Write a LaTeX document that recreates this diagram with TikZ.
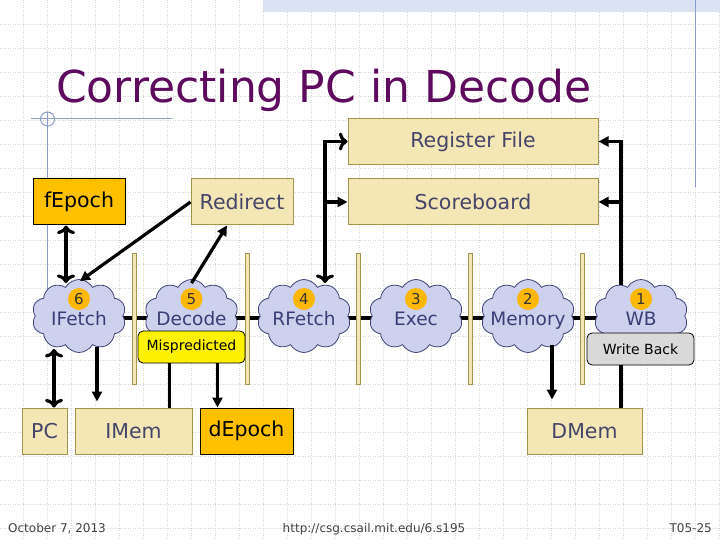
\documentclass[tikz,border=0pt]{standalone}
\usepackage{fontspec}
\setmainfont{DejaVu Sans}
\usetikzlibrary{arrows.meta,shapes.symbols,backgrounds}

\definecolor{tanfill}{HTML}{F3E7B5}
\definecolor{tanline}{HTML}{A4944C}
\definecolor{epochfill}{HTML}{FFC000}
\definecolor{cloudfill}{HTML}{CDD1EE}
\definecolor{cloudline}{HTML}{3F4377}
\definecolor{navytext}{HTML}{3B3E76}
\definecolor{boxtext}{HTML}{45456A}
\definecolor{titlepurple}{HTML}{5E0A5E}
\definecolor{gridgray}{HTML}{D6D6D6}
\definecolor{slideblue}{HTML}{8A9CC8}
\definecolor{bandblue}{HTML}{DAE1F1}
\definecolor{wbgray}{HTML}{D9D9D9}
\definecolor{dotorange}{HTML}{FFB800}

\tikzset{
  box/.style={draw=tanline, fill=tanfill, text=boxtext, line width=1pt,
    minimum height=46pt, inner sep=0pt, font=\fontsize{20.5}{20.5}\selectfont},
  epochbox/.style={box, draw=black, fill=epochfill, text=black},
  cloudy/.style={cloud, cloud puffs=10, cloud puff arc=120, draw=cloudline,
    fill=cloudfill, line width=0.8pt, minimum width=94pt, minimum height=73pt,
    inner sep=0pt},
  numdot/.style={circle, fill=dotorange, minimum size=22pt, inner sep=0pt,
    text=black!80, font=\fontsize{15}{15}\selectfont},
  cloudtext/.style={text=navytext, inner sep=0pt, anchor=base,
    font=\fontsize{18.5}{18.5}\selectfont},
  tag/.style={draw=black, rounded corners=5pt, line width=0.8pt, minimum height=32pt,
    inner sep=0pt, font=\fontsize{14}{14}\selectfont},
  latch/.style={draw=tanline, fill=tanfill, line width=0.6pt, minimum width=4pt,
    minimum height=131pt, inner sep=0pt},
  wire/.style={line width=3.2pt},
  arr/.style={wire, -{Triangle[length=10pt,width=10pt]}},
  foot/.style={text=black!75, inner sep=0pt, font=\fontsize{12}{12}\selectfont},
}

\begin{document}
\begin{tikzpicture}[x=1pt,y=-1pt]
\useasboundingbox (0,0) rectangle (720,540);

% slide background
\begin{scope}[on background layer]
  \fill[white] (0,0) rectangle (720,540);
  \foreach \x in {0,...,29}
    \draw[gridgray,dotted,line width=0.5pt] (23.5+24*\x,0)--(23.5+24*\x,540);
  \foreach \y in {1,...,22}
    \draw[gridgray,dotted,line width=0.5pt] (0,24*\y)--(720,24*\y);
  \fill[bandblue] (263,0) rectangle (720,12);
  \draw[slideblue,line width=1pt] (695,0)--(695,187);
  \draw[slideblue,line width=1pt] (31,119)--(172,119);
  \draw[slideblue,line width=1pt] (47.5,112)--(47.5,300);
  \draw[slideblue,line width=1pt] (47.5,119) circle[radius=7pt];
\end{scope}

\node[anchor=base west,inner sep=0pt,text=titlepurple,font=\fontsize{44}{44}\selectfont]
  (title) at (56,103) {Correcting PC in Decode};

% state elements
\node[box,minimum width=250pt] (rf) at (473,141.5) {Register File};
\node[box,minimum width=250pt] (sb) at (473,202) {Scoreboard};
\node[epochbox,minimum width=92pt] (fepoch) at (79,202) {fEpoch};
\node[box,minimum width=102pt] (redirect) at (242,202) {Redirect};
\node[box,minimum width=45pt] (pc) at (44.5,431) {PC};
\node[box,minimum width=117pt] (imem) at (133.5,431) {IMem};
\node[epochbox,minimum width=93pt] (depoch) at (246.5,431) {dEpoch};
\node[box,minimum width=115pt] (dmem) at (584.5,431) {DMem};

% pipeline stages
\foreach \x/\n/\name/\lbl in {79/6/ifetch/IFetch,191.5/5/decode/Decode,304/4/rfetch/RFetch,
    416/3/exec/Exec,528/2/memory/Memory,641/1/wb/WB}{
  \node[cloudy] (\name) at (\x,316) {};
  \node[numdot] (\name-n) at (\x,299) {\n};
  \node[cloudtext] (\name-t) at (\x,325) {\lbl};
}
\begin{scope}[on background layer]
  \draw[wire] ([yshift=-2pt]ifetch.center) -- ([yshift=-2pt]wb.center);
\end{scope}
\foreach \x in {134,247,358,470,582}
  \node[latch] (latch\x) at (\x,318.5) {};

\node[tag,fill=yellow,minimum width=107pt] (mispred) at (191.5,347) {Mispredicted};
\node[tag,fill=wbgray,minimum width=107pt] (wback) at (640.5,349) {Write Back};

% connections
\draw[arr,<->] ([xshift=-13pt]fepoch.south) -- ([xshift=-13pt,yshift=-4pt]ifetch.north);
\draw[arr] (redirect.west) -- ([xshift=1pt,yshift=-2pt]ifetch.north);
\draw[arr] ([yshift=-4pt]decode.north) -- ([xshift=-15pt]redirect.south);
\coordinate (rfbus) at ([xshift=21pt,yshift=-4pt]rfetch.north);
\draw[arr,<->] (rf.west) -| (rfbus);
\draw[arr] (sb.west -| rfbus) -- (sb.west);
\coordinate (wbbus) at ([xshift=-20pt,yshift=-6pt]wb.north);
\draw[arr] (wbbus) |- (rf.east);
\draw[arr] (sb.east -| wbbus) -- (sb.east);
\draw[arr,<->] ([xshift=9.5pt]pc.north) -- ([xshift=-25pt,yshift=4pt]ifetch.south);
\draw[arr] ([xshift=18pt,yshift=6pt]ifetch.south) -- ([xshift=18pt,yshift=6pt]ifetch.south |- imem.north);
\draw[wire] ([xshift=-22pt]mispred.south) -- ([xshift=-22pt]mispred.south |- imem.north);
\draw[arr] ([xshift=26pt]mispred.south) -- ([xshift=26pt]mispred.south |- depoch.north);
\draw[arr] ([xshift=24pt,yshift=8pt]memory.south) -- ([xshift=24pt,yshift=8pt]memory.south |- dmem.north);
\draw[wire] ([xshift=-19.5pt]wback.south) -- ([xshift=-19.5pt]wback.south |- dmem.north);

% footer
\node[foot,anchor=base west] (date) at (8,532) {October 7, 2013};
\node[foot,anchor=base] (url) at (374,532) {http://csg.csail.mit.edu/6.s195};
\node[foot,anchor=base east] (page) at (712,532) {T05-25};
\end{tikzpicture}
\end{document}
